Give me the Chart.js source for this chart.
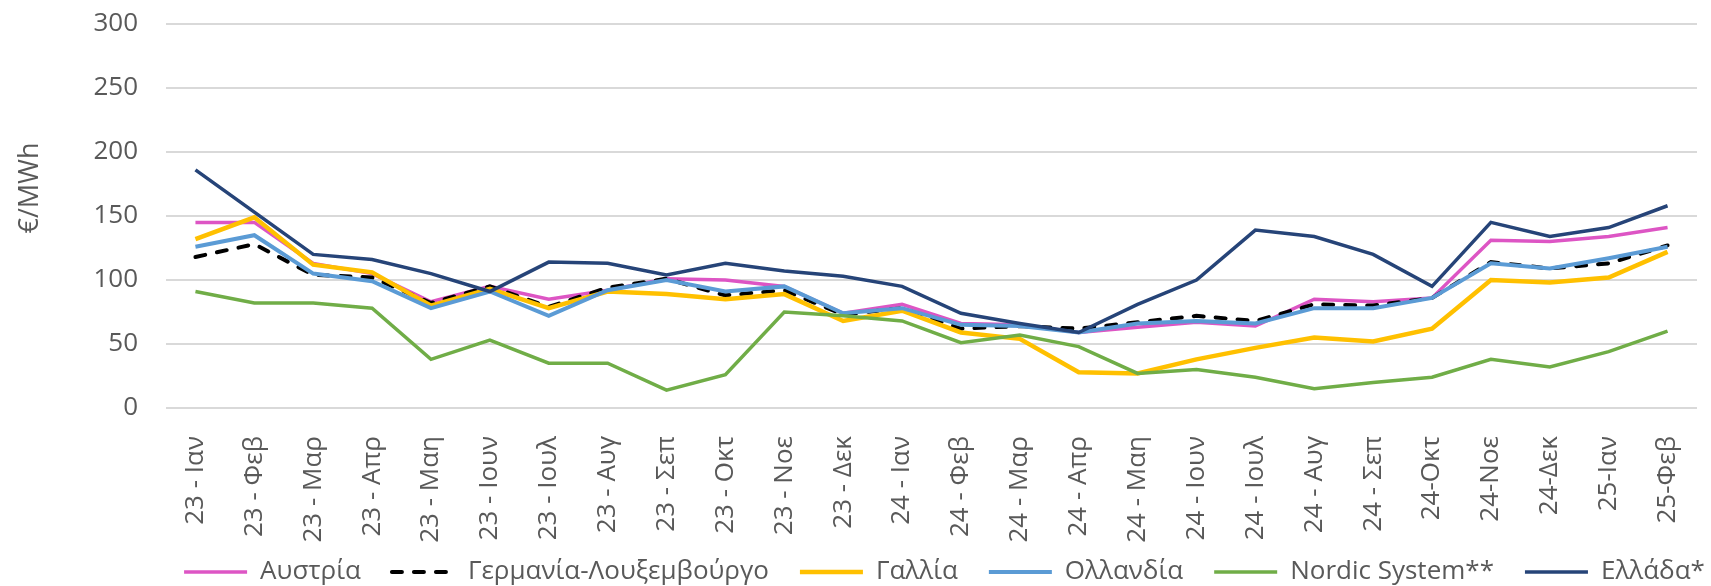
<!DOCTYPE html>
<html>
<head>
<meta charset="utf-8">
<script src="https://cdn.jsdelivr.net/npm/chart.js@4"></script>
<style>
  html, body { margin: 0; padding: 0; background: #fff; }
  #wrap { width: 1711px; height: 586px; }
</style>
</head>
<body>
<div id="wrap"><canvas id="chart"></canvas></div>
<script>
const months = ['23 - Ιαν', '23 - Φεβ', '23 - Μαρ', '23 - Απρ', '23 - Μαη', '23 - Ιουν', '23 - Ιουλ', '23 - Αυγ',
  '23 - Σεπ', '23 - Οκτ', '23 - Νοε', '23 - Δεκ', '24 - Ιαν', '24 - Φεβ', '24 - Μαρ', '24 - Απρ', '24 - Μαη',
  '24 - Ιουν', '24 - Ιουλ', '24 - Αυγ', '24 - Σεπ', '24-Οκτ', '24-Νοε', '24-Δεκ', '25-Ιαν', '25-Φεβ'];

const austria = [145, 145, 113, 105, 83, 95, 85, 92, 101, 100, 95, 74, 81, 66, 65, 59, 63, 67, 64, 85, 83, 86, 131, 130, 134, 141];
const germanyLux = [118, 128, 104, 102, 82, 95, 79, 94, 101, 88, 92, 73, 78, 62, 64, 62, 67, 72, 68, 81, 80, 86, 114, 109, 113, 127];
const france = [132, 149, 112, 106, 80, 93, 78, 91, 89, 85, 89, 68, 76, 59, 54, 28, 27, 38, 47, 55, 52, 62, 100, 98, 102, 122];
const netherlands = [126, 135, 105, 99, 78, 91, 72, 92, 100, 91, 95, 74, 78, 65, 64, 59, 66, 68, 66, 78, 78, 86, 113, 109, 117, 126];
const nordic = [91, 82, 82, 78, 38, 53, 35, 35, 14, 26, 75, 72, 68, 51, 57, 48, 27, 30, 24, 15, 20, 24, 38, 32, 44, 60];
const greece = [186, 153, 120, 116, 105, 91, 114, 113, 104, 113, 107, 103, 95, 74, 66, 59, 81, 100, 139, 134, 120, 95, 145, 134, 141, 158];

const textColor = '#595959';
const font = 'Open Sans';

// later series sit on top, like the original
const series = [
  { label: 'Αυστρία', data: austria, color: '#DD55C4', width: 3.5 },
  { label: 'Γερμανία-Λουξεμβούργο', data: germanyLux, color: '#000000', width: 4, dash: [10, 12] },
  { label: 'Γαλλία', data: france, color: '#FFC000', width: 4.5 },
  { label: 'Ολλανδία', data: netherlands, color: '#5B9BD5', width: 4 },
  { label: 'Nordic System**', data: nordic, color: '#70AD47', width: 3.5 },
  { label: 'Ελλάδα*', data: greece, color: '#264478', width: 3.5 },
];

const datasets = series.map((s, i) => ({
  label: s.label,
  data: s.data,
  borderColor: s.color,
  backgroundColor: s.color,
  borderWidth: s.width,
  borderDash: s.dash || [],
  borderCapStyle: s.dash ? 'round' : 'butt',
  pointRadius: 0,
  tension: 0,
  order: series.length - i,
}));

// slide the legend row so it sits under the plot like in the original
const legendNudge = {
  id: 'legendNudge',
  afterLayout(chart) {
    const l = chart.legend;
    l.left += 91; l.right += 91;
    l.top = 528; l.height = 100; l.bottom = l.top + l.height;
  },
};

new Chart(document.getElementById('chart'), {
  type: 'line',
  data: { labels: months, datasets },
  plugins: [legendNudge],
  options: {
    responsive: true,
    maintainAspectRatio: false,
    animation: false,
    layout: { padding: { left: 10, right: 14, top: 24, bottom: 0 } },
    plugins: {
      tooltip: { enabled: false },
      legend: {
        position: 'bottom',
        maxHeight: 20,
        labels: {
          font: { family: font, size: 26 },
          color: textColor,
          usePointStyle: true,
          pointStyle: 'line',
          pointStyleWidth: 63,
          boxHeight: 26,
          padding: 31,
          sort: (a, b) => a.datasetIndex - b.datasetIndex,
          generateLabels(chart) {
            const items = Chart.defaults.plugins.legend.labels.generateLabels(chart);
            items.forEach((it) => {
              const ds = chart.data.datasets[it.datasetIndex];
              it.lineWidth = ds.borderWidth;
              it.strokeStyle = ds.borderColor;
              it.lineDash = ds.borderDash;
              it.lineCap = ds.borderCapStyle;
            });
            return items;
          },
        },
      },
    },
    scales: {
      x: {
        offset: true,
        grid: { display: false },
        border: { display: false },
        ticks: {
          font: { family: font, size: 26 },
          color: textColor,
          minRotation: 90,
          maxRotation: 90,
          autoSkip: false,
          padding: 20,
        },
        afterFit(s) {
          s.height = 158;
          s.paddingLeft = 0; s.paddingRight = 0;
        },
      },
      y: {
        min: 0,
        max: 300,
        grid: { color: '#D9D9D9', lineWidth: 2, drawTicks: false },
        border: { display: false },
        ticks: {
          stepSize: 50,
          font: { family: font, size: 26 },
          color: textColor,
          padding: 28,
        },
        title: {
          display: true,
          text: '        €/MWh',
          font: { family: font, size: 27 },
          color: textColor,
          padding: { top: 4, bottom: 19 },
        },
        afterFit(s) {
          s.width = 156;
          s.paddingTop = 0; s.paddingBottom = 0;
        },
      },
    },
  },
});
</script>
</body>
</html>
